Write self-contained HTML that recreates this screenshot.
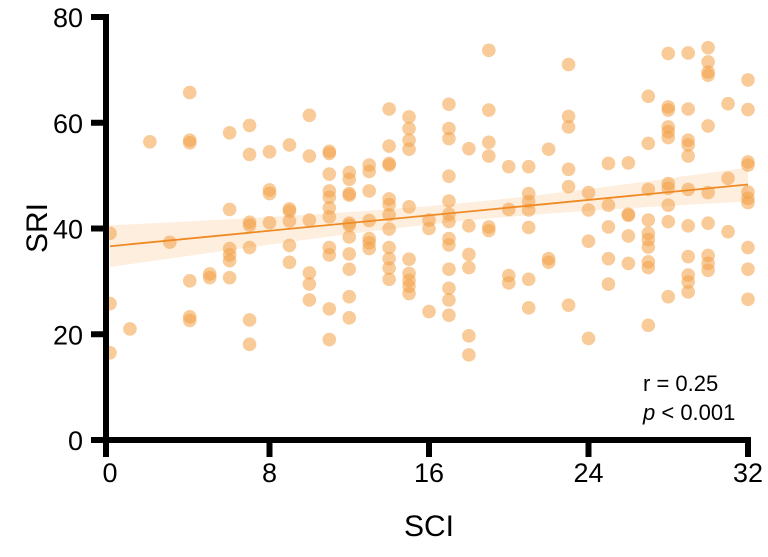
<!DOCTYPE html>
<html><head><meta charset="utf-8"><style>
body{margin:0;background:#fff;}
svg text{font-family:"Liberation Sans",Arial,sans-serif;fill:#000;}
</style></head><body>
<svg id="chart" width="768" height="552">
<g id="band"></g><g id="pts"></g><g id="fit"></g><g id="axes"></g>
</svg>
<script>
const xVals=[0,0,0,1,2,3,4,4,4,4,4,4,5,5,6,6,6,6,6,6,7,7,7,7,7,7,7,8,8,8,8,9,9,9,9,9,9,10,10,10,10,10,10,
11,11,11,11,11,11,11,11,11,11,11,12,12,12,12,12,12,12,12,12,12,12,13,13,13,13,13,13,13,
14,14,14,14,14,14,14,14,14,14,14,14,15,15,15,15,15,15,15,15,15,15,16,16,16,
17,17,17,17,17,17,17,17,17,17,17,17,17,18,18,18,18,18,18,19,19,19,19,19,19,20,20,20,20,
21,21,21,21,21,21,21,22,22,22,23,23,23,23,23,23,24,24,24,24,25,25,25,25,25,26,26,26,26,26,
27,27,27,27,27,27,27,27,27,27,28,28,28,28,28,28,28,28,28,28,28,
29,29,29,29,29,29,29,29,29,29,29,30,30,30,30,30,30,30,30,30,30,31,31,31,32,32,32,32,32,32,32,32,32,32];
const yVals=[39.1,25.8,16.5,21,56.4,37.4,65.7,56.7,56.2,30.1,23.3,22.6,31.4,30.7,58.1,43.6,36.2,35,33.9,30.7,59.5,54,41.2,40.6,36.4,22.7,18.1,54.5,47.3,46.6,41.1,55.8,43.7,43.3,41.4,36.8,33.6,61.4,53.7,41.6,31.6,29.5,26.5,
54.6,54.2,50.3,47.1,45.9,43.9,42.2,36.4,35,24.8,19,50.6,49.3,46.6,46.3,41,40.6,38.4,35.2,32.3,27.1,23.1,52,50.8,47.1,41.5,38.1,37.3,36.2,
62.6,55.6,52.3,52,45.6,44.5,42.6,39.9,36.4,34.3,32.5,30.4,61.1,58.9,56.7,55,44.1,34.2,31.5,30.2,29.1,27.7,41.6,40,24.3,
63.5,58.9,57,49.9,45.2,42.7,41.3,38.1,36.9,32.3,28.7,26.5,23.6,55.1,40.5,35.1,32.6,19.7,16.1,73.7,62.4,56.3,53.7,40.3,39.6,51.7,43.6,31.1,29.7,
51.7,46.6,45.1,43.5,40.2,30.4,25,55,34.3,33.6,71,61.2,59.2,51.2,47.9,25.5,46.8,43.5,37.6,19.2,52.3,44.4,40.3,34.3,29.5,52.4,42.7,42.5,38.6,33.4,
65,56.1,47.4,41.6,39.1,37.9,36.5,33.7,32.6,21.7,73.1,63,62.4,59.2,58.3,57.2,48.5,47.6,44.4,41.3,27.1,
73.2,62.6,56.7,55.8,53.7,47.4,40.5,34.7,31.2,29.9,28,74.2,71.5,69.6,69,59.4,46.8,41,34.9,33.4,32.1,63.6,49.5,39.4,68.1,62.5,52.6,52,46.9,45.7,44.9,36.4,32.3,26.6];
const xTicks=[0,8,16,24,32];
const yTicks=[0,20,40,60,80];
const statsText=["r = 0.25","< 0.001"];

const NS="http://www.w3.org/2000/svg";
const X0=110,X1=748,Y0=440,Y1=17;
const sx=v=>X0+(v-0)/(32-0)*(X1-X0);
const sy=v=>Y0-(v-0)/(80-0)*(Y0-Y1);
function mk(tag,parent,attrs){const e=document.createElementNS(NS,tag);for(const k in attrs)e.setAttribute(k,attrs[k]);(typeof parent==='string'?document.getElementById(parent):parent).appendChild(e);return e;}

const n=xVals.length;let mx=0,my=0;for(let i=0;i<n;i++){mx+=xVals[i];my+=yVals[i];}mx/=n;my/=n;
let sxx=0,sxy=0;for(let i=0;i<n;i++){sxx+=(xVals[i]-mx)**2;sxy+=(xVals[i]-mx)*(yVals[i]-my);}
const b=sxy/sxx,a=my-b*mx;let sse=0;for(let i=0;i<n;i++)sse+=(yVals[i]-a-b*xVals[i])**2;
const s=Math.sqrt(sse/(n-2));
let up=[],lo=[];for(let k=0;k<=32;k++){const h=1.97*s*Math.sqrt(1/n+(k-mx)**2/sxx);up.push(sx(k)+","+sy(a+b*k+h));lo.unshift(sx(k)+","+sy(a+b*k-h));}
const band=mk('polygon','band',{points:up.concat(lo).join(' '),fill:'rgba(245,170,90,0.2)'});



for(let i=0;i<n;i++){const c=mk('circle','pts',{cx:sx(xVals[i]),cy:sy(yVals[i]),r:6.8,fill:'rgba(242,160,70,0.55)'});

}

const fl=mk('line','fit',{x1:sx(0),y1:sy(a),x2:sx(32),y2:sy(a+b*32),stroke:'#f08a24','stroke-width':1.8});



const ax=document.getElementById('axes');
const ya=mk('line',ax,{x1:106,y1:Y1-3,x2:106,y2:Y0+3,stroke:'#000','stroke-width':6});


const xa=mk('line',ax,{x1:91,y1:Y0,x2:X1+3,y2:Y0,stroke:'#000','stroke-width':6});


yTicks.forEach(v=>{mk('line',ax,{x1:91,y1:sy(v),x2:106,y2:sy(v),stroke:'#000','stroke-width':6});
const t=mk('text',ax,{x:83,y:sy(v)+10,'text-anchor':'end','font-size':27});t.textContent=v;

});
xTicks.forEach(v=>{const px=v===0?106:sx(v);mk('line',ax,{x1:px,y1:Y0,x2:px,y2:Y0+17,stroke:'#000','stroke-width':6});
const t=mk('text',ax,{x:sx(v),y:482,'text-anchor':'middle','font-size':27});t.textContent=v;

});
const xt=mk('text',ax,{x:429,y:536,'text-anchor':'middle','font-size':30});xt.textContent='SCI';


const yt=mk('text',ax,{x:0,y:0,'text-anchor':'middle','font-size':30,transform:'translate(47,228) rotate(-90)'});yt.textContent='SRI';


const r1=mk('text',ax,{x:643,y:391,'font-size':22});r1.textContent=statsText[0];


const r2=mk('text',ax,{x:643,y:420,'font-size':22});
r2.innerHTML='<tspan font-style="italic">p</tspan> '+statsText[1];


</script>
</body></html>
